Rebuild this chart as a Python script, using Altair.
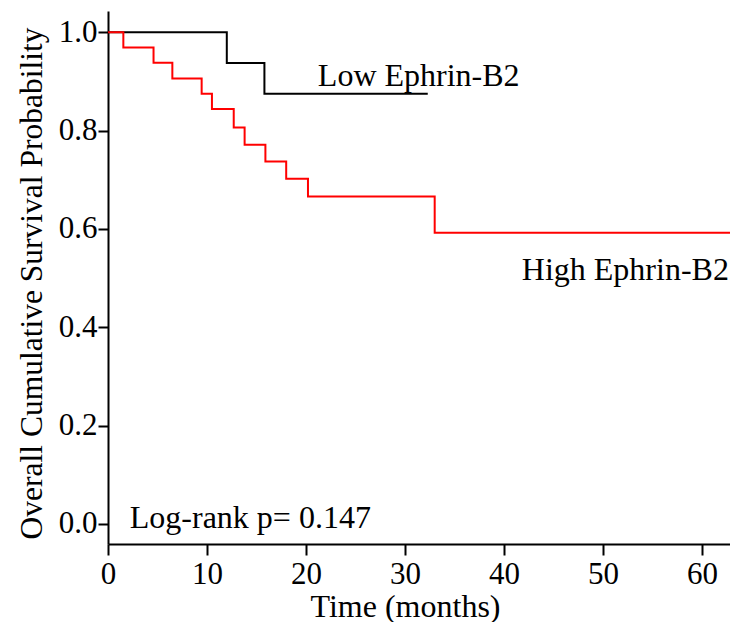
import altair as alt
import pandas as pd

# Kaplan-Meier curves
low_time = [0, 12.0, 15.8, 32.3]
low_surv = [1.0, 0.9375, 0.875, 0.875]

high_time = [0, 1.55, 4.6, 6.5, 9.46, 10.5, 12.7, 13.8, 15.9, 18.0, 20.2, 33.0, 63.5]
high_surv = [1.0, 0.969, 0.938, 0.906, 0.875, 0.844, 0.806, 0.771, 0.737, 0.702, 0.666, 0.592, 0.592]

x_ticks = [0, 10, 20, 30, 40, 50, 60]
y_ticks = [0.0, 0.2, 0.4, 0.6, 0.8, 1.0]

label_text = ["Low Ephrin-B2", "High Ephrin-B2", "Log-rank p= 0.147"]
label_x = [21.2, 41.8, 2.2]
label_y = [0.891, 0.496, -0.008]

FONT = "Liberation Serif"

low_df = pd.DataFrame({"time": low_time, "surv": low_surv})
high_df = pd.DataFrame({"time": high_time, "surv": high_surv})
labels = pd.DataFrame({"text": label_text, "x": label_x, "y": label_y})

xscale = alt.Scale(domain=[0, 62.83], nice=False, zero=False, clamp=False)
yscale = alt.Scale(domain=[-0.0407, 1.043], nice=False, zero=False)

xaxis = alt.Axis(
    values=x_ticks, title="Time (months)", grid=False, labelFlush=False, labelOverlap=False,
    tickSize=11, tickWidth=2, domainWidth=2, domainColor="black", tickColor="black",
    labelFont=FONT, labelFontSize=31, labelColor="black", labelPadding=4,
    titleFont=FONT, titleFontSize=32, titleFontWeight="normal", titleColor="black",
    titleX=297, titleY=72, titleBaseline="alphabetic", titleAlign="center", titleAnchor="start",
)
yaxis = alt.Axis(
    values=y_ticks, format=".1f", title="Overall Cumulative Survival Probability", grid=False,
    labelFlush=False, labelOverlap=False,
    tickSize=10, tickWidth=2, domainWidth=2, domainColor="black", tickColor="black",
    labelFont=FONT, labelFontSize=31, labelColor="black", labelPadding=1,
    titleFont=FONT, titleFontSize=31.5, titleFontWeight="normal", titleColor="black",
    titleX=-67, titleY=272, titleBaseline="alphabetic", titleAlign="center", titleAngle=270,
    titleAnchor="start",
)

low_line = alt.Chart(low_df).mark_line(
    interpolate="step-after", strokeWidth=2, color="#000000"
).encode(
    x=alt.X("time:Q", scale=xscale, axis=xaxis),
    y=alt.Y("surv:Q", scale=yscale, axis=yaxis),
)
high_line = alt.Chart(high_df).mark_line(
    interpolate="step-after", strokeWidth=2, color="#ff0000"
).encode(
    x=alt.X("time:Q", scale=xscale),
    y=alt.Y("surv:Q", scale=yscale),
)

text = alt.Chart(labels).mark_text(
    align="left", baseline="alphabetic", font=FONT, fontSize=32, color="black"
).encode(
    x=alt.X("x:Q", scale=xscale),
    y=alt.Y("y:Q", scale=yscale),
    text="text:N",
)

chart = alt.layer(low_line, high_line, text).properties(
    width=622, height=533,
    autosize=alt.AutoSizeParams(type="none"),
    padding={"left": 100, "top": 3, "right": 0, "bottom": 78},
).configure_view(stroke=None)

chart.save("out.html", embed_options={"renderer": "svg", "actions": False})
